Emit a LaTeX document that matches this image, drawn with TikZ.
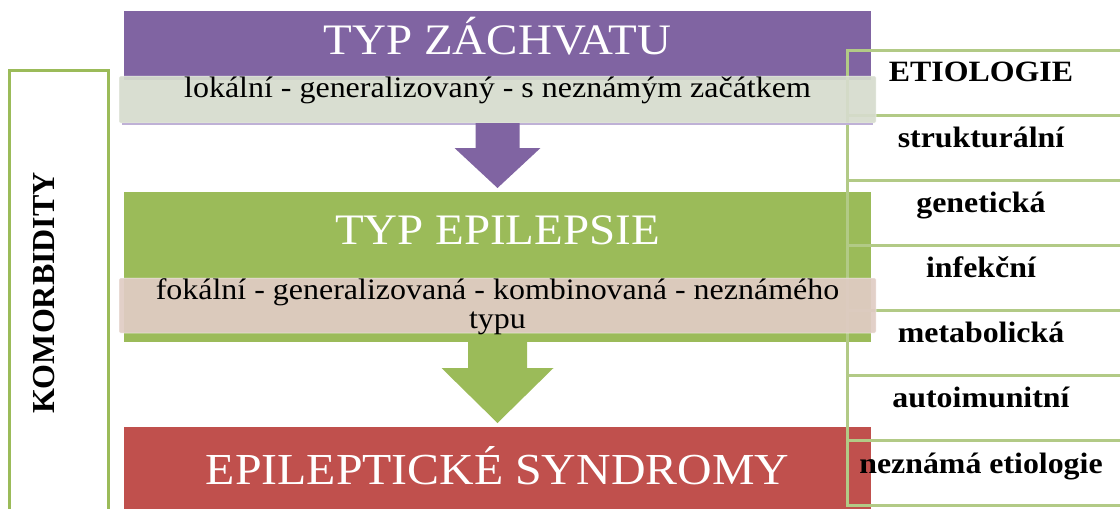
\documentclass[tikz,border=0pt]{standalone}
\usepackage{fontspec}
\setmainfont{Liberation Serif}[FakeStretch=1.08]
\newfontfamily\plainserif{Liberation Serif}
\usetikzlibrary{calc}

\definecolor{purp}{HTML}{8064A2}
\definecolor{leaf}{HTML}{9BBB59}
\definecolor{brick}{HTML}{C0504D}
\definecolor{sage}{HTML}{D6DCCD}
\definecolor{blush}{HTML}{E0CCC4}
\definecolor{gridgreen}{HTML}{B2CA86}
\definecolor{lavshadow}{HTML}{BFB1D6}

\tikzset{
  box/.style={anchor=north west, inner sep=0pt, outer sep=0pt},
  band/.style={anchor=north west, inner sep=0pt, outer sep=0pt, rounded corners=1.5pt,
    draw=white, draw opacity=0.35, line width=1pt, fill opacity=0.93},
  title/.style={text=white, anchor=base, inner sep=0pt, font=\fontsize{43.5}{48}\selectfont},
  subtext/.style={text=black, anchor=base, inner sep=0pt, align=center,
    font=\fontsize{29.6}{29}\selectfont},
  cell/.style={anchor=north west, inner sep=0pt, outer sep=0pt, draw=gridgreen,
    line width=3pt, minimum width=290pt, minimum height=65.14pt},
  etio/.style={anchor=base, inner sep=0pt, font=\bfseries\fontsize{29.5}{32}\selectfont},
}

\begin{document}
\begin{tikzpicture}[x=1pt,y=-1pt]
\useasboundingbox (0,0) rectangle (1120,509);
\clip (0,0) rectangle (1120,509);

% main colour blocks
\node[box, fill=purp,  minimum width=747pt, minimum height=69pt]  (zachvat)  at (124,11)  {};
\node[box, fill=leaf,  minimum width=747pt, minimum height=150pt] (epilepsie) at (124,192) {};
\node[box, fill=brick, minimum width=747pt, minimum height=90pt]  (syndromy) at (124,427) {};

% comorbidity frame
\node[box, draw=leaf, line width=3pt, minimum width=99pt, minimum height=470pt] (komor) at (9,70) {};
\node[rotate=90, inner sep=0pt, font=\plainserif\bfseries\fontsize{32}{34}\selectfont]
  (komortext) at (44,293) {KOMORBIDITY};

% etiology column
\foreach \i/\name in {0/etA,1/etB,2/etC,3/etD,4/etE,5/etF,6/etG}{
  \node[cell] (\name) at (847,{50+\i*65.14}) {};
}

% description bands
\node[band, fill=sage,  minimum width=757pt, minimum height=47pt] (band1) at (119,76)  {};
\draw[lavshadow, line width=1.5pt] ($(band1.south west)+(3,0.8)$) -- ($(band1.south east)+(-3,0.8)$);
\node[band, fill=blush, minimum width=757pt, minimum height=55pt] (band2) at (119,278) {};

% block arrows between the stages
\fill[purp] ($(band1.south)+(-22,0)$) -- ++(0,25) -- ++(-21,0)
  -- ($(epilepsie.north)+(0,-4)$) -- ($(band1.south)+(43,25)$) -- ++(-21,0)
  -- ($(band1.south)+(22,0)$) -- cycle;
\fill[leaf] ($(epilepsie.south)+(-29.5,0)$) -- ++(0,26) -- ++(-26.5,0)
  -- ($(syndromy.north)+(0,-4)$) -- ($(epilepsie.south)+(56,26)$) -- ++(-26.5,0)
  -- ($(epilepsie.south)+(29.5,0)$) -- cycle;

% titles and descriptions
\node[title] (t1) at (497.5,54)  {TYP ZÁCHVATU};
\node[subtext] (d1) at (497.5,97) {lokální - generalizovaný - s neznámým začátkem};
\node[title] (t2) at (497.5,244) {TYP EPILEPSIE};
\node[subtext] (d2) at (497.5,328) {fokální - generalizovaná - kombinovaná - neznámého\\typu};
\node[title, font=\fontsize{44.3}{48}\selectfont] (t3) at (497.5,484) {EPILEPTICKÉ SYNDROMY};

% etiology labels
\node[etio] at (981,81)  {ETIOLOGIE};
\node[etio] at (981,147) {strukturální};
\node[etio] at (981,212) {genetická};
\node[etio] at (981,277) {infekční};
\node[etio] at (981,342) {metabolická};
\node[etio] at (981,407) {autoimunitní};
\node[etio] at (981,473) {neznámá etiologie};
\end{tikzpicture}
\end{document}
